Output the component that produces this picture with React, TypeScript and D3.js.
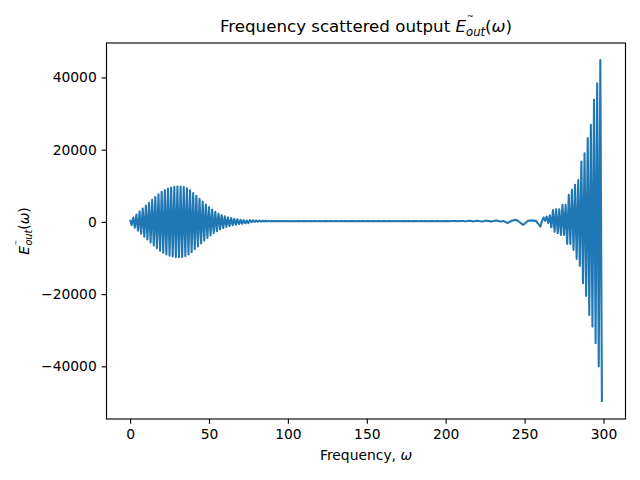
import React, { useEffect, useRef } from 'react';
import * as d3 from 'd3';

const lowBand = [
  600, -900, 1200, -1600, 2000, -2400, 2900, -3300, 3700, -4100,
  4500, -4900, 5300, -5700, 6100, -6500, 6900, -7300, 7650, -8000,
  8300, -8550, 8800, -9000, 9200, -9350, 9500, -9600, 9700, -9750,
  9780, -9800, 9780, -9750, 9650, -9500, 9300, -9050, 8750, -8400,
  8000, -7600, 7200, -6800, 6400, -6000, 5600, -5200, 4800, -4450,
  4100, -3750, 3400, -3100, 2800, -2550, 2300, -2100, 1900, -1700,
  1550, -1400, 1250, -1150, 1050, -950, 850, -780, 700, -640,
  580, -520, 470, -420, 380, -340, 500, -70, 440, -10,
  390, 30, 350, 70, 320, 100, 300, 120, 280, 140,
];

const flatBand = [
  260, 150, 250, 160, 240, 170, 230, 175, 225, 180,
  220, 185, 215, 190, 210, 195, 205, 200, 210, 195,
  205, 198, 210, 192, 207, 200, 196, 212, 203, 190,
  208, 201, 195, 214, 199, 204, 188, 206, 211, 197,
  200, 209, 193, 205, 202, 196, 213, 199, 190, 207,
  204, 198, 211, 195, 200, 208, 192, 203, 210, 197,
  201, 206, 194, 209, 198, 203, 190, 212, 200, 196,
  207, 199, 204, 193, 211, 202, 195, 208, 197, 205,
  200, 190, 213, 198, 204, 196, 209, 201, 193, 206,
  210, 198, 203, 189, 207, 214, 196, 200, 205, 192,
  208, 199, 215, 187, 203, 210, 194, 220, 180, 205,
];

const highBand = [
  210, 230, 200, 180, 220, 250, 210, 170, 200, 240,
  260, 220, 160, 190, 250, 280, 230, 150, 180, 260,
  300, 240, 160, 120, 200, 300, 330, 250, 150, 140,
  220, 320, 380, 300, 180, 120, 200, 150, -50, -300,
  -150, 100, 300, 450, 550, 480, 250, -100, -500, -800,
  -550, -100, 250, 400, 300, 450, 250, 400, -200, -700,
  -1300, 200, 1200, 300, 1500, -300, 1800, -1500, 3300, -2700,
  3500, -3100, 3500, -3600, 4700, -3600, 4700, -6100, 7500, -6100,
  8860, -7750, 10250, -10300, 11600, -12200, 16700, -17000, 19000, -20500,
  23200, -25800, 26900, -29000, 33800, -33600, 38400, -40000, 44800, -49850,
];

const xTicks = [0, 50, 100, 150, 200, 250, 300];
const yTicks = [-40000, -20000, 0, 20000, 40000];

const signal = [...lowBand, ...flatBand, ...highBand];

export default function App() {
  const svgRef = useRef<SVGSVGElement>(null);

  useEffect(() => {
    if (!svgRef.current) return;
    const svg = d3.select(svgRef.current);
    svg.selectAll('*').remove();

    const W = 640, H = 480;
    const margin = { top: 43, right: 14.5, bottom: 61, left: 106.5 };
    const pt = 100 / 72;
    const font = 'DejaVu Sans, sans-serif';

    const padded = (lo: number, hi: number) => {
      const m = (hi - lo) * 0.05;
      return [lo - m, hi + m];
    };

    const x = d3.scaleLinear()
      .domain(padded(0, signal.length - 1))
      .range([margin.left, W - margin.right]);

    const [yMin, yMax] = d3.extent(signal) as [number, number];
    const y = d3.scaleLinear()
      .domain(padded(yMin, yMax))
      .range([H - margin.bottom, margin.top]);

    const line = d3.line<number>()
      .x((_, i) => x(i))
      .y(d => y(d));

    svg.append('rect')
      .attr('width', W).attr('height', H).attr('fill', '#fff');

    svg.append('path')
      .datum(signal)
      .attr('fill', 'none')
      .attr('stroke', '#1f77b4')
      .attr('stroke-width', 1.5 * pt)
      .attr('stroke-linejoin', 'round')
      .attr('d', line);

    // axes
    const tick = 3.5 * pt;
    const xAxis = svg.append('g')
      .attr('transform', `translate(0,${H - margin.bottom})`)
      .call(d3.axisBottom(x).tickValues(xTicks).tickSize(tick).tickPadding(tick).tickFormat(d3.format('d')));
    const yAxis = svg.append('g')
      .attr('transform', `translate(${margin.left},0)`)
      .call(d3.axisLeft(y).tickValues(yTicks).tickSize(tick).tickPadding(tick).tickFormat(d3.format('d')));

    [xAxis, yAxis].forEach(g => {
      g.select('.domain').remove();
      g.selectAll('line').attr('stroke', '#000').attr('stroke-width', 0.8 * pt);
      g.selectAll('text')
        .attr('fill', '#000')
        .style('font-family', font)
        .style('font-size', `${10 * pt}px`);
    });

    svg.append('rect')
      .attr('x', margin.left)
      .attr('y', margin.top)
      .attr('width', W - margin.left - margin.right)
      .attr('height', H - margin.top - margin.bottom)
      .attr('fill', 'none')
      .attr('stroke', '#000')
      .attr('stroke-width', 0.8 * pt);

    const cx = (margin.left + W - margin.right) / 2;

    // title
    const title = svg.append('text')
      .attr('x', cx)
      .attr('y', 32)
      .attr('text-anchor', 'middle')
      .style('font-family', font)
      .style('font-size', `${12 * pt}px`);
    title.append('tspan').text('Frequency scattered output ');
    title.append('tspan').attr('font-style', 'italic').text('E');
    title.append('tspan').attr('font-size', 8).attr('dx', 1).attr('dy', -13).text('~');
    title.append('tspan').attr('font-style', 'italic').attr('font-size', 12 * pt * 0.7)
      .attr('dx', -7.7).attr('dy', 16.5).text('out');
    title.append('tspan').attr('dy', -3.5).text('(');
    title.append('tspan').attr('font-style', 'italic').text('ω');
    title.append('tspan').text(')');

    // x label
    const xl = svg.append('text')
      .attr('x', cx)
      .attr('y', 460)
      .attr('text-anchor', 'middle')
      .style('font-family', font)
      .style('font-size', `${10 * pt}px`);
    xl.append('tspan').text('Frequency, ');
    xl.append('tspan').attr('font-style', 'italic').text('ω');

    // y label
    const yl = svg.append('text')
      .attr('transform', `translate(29,${(margin.top + H - margin.bottom) / 2}) rotate(-90)`)
      .attr('text-anchor', 'middle')
      .style('font-family', font)
      .style('font-size', `${10 * pt}px`);
    yl.append('tspan').attr('font-style', 'italic').text('E');
    yl.append('tspan').attr('font-size', 7).attr('dx', 0.5).attr('dy', -11).text('~');
    yl.append('tspan').attr('font-style', 'italic').attr('font-size', 10 * pt * 0.7)
      .attr('dx', -6).attr('dy', 14).text('out');
    yl.append('tspan').attr('dy', -3).text('(');
    yl.append('tspan').attr('font-style', 'italic').text('ω');
    yl.append('tspan').text(')');
  }, []);

  return (
    <svg ref={svgRef} width={640} height={480}
      style={{ position: 'absolute', left: 0, top: 0 }} />
  );
}
